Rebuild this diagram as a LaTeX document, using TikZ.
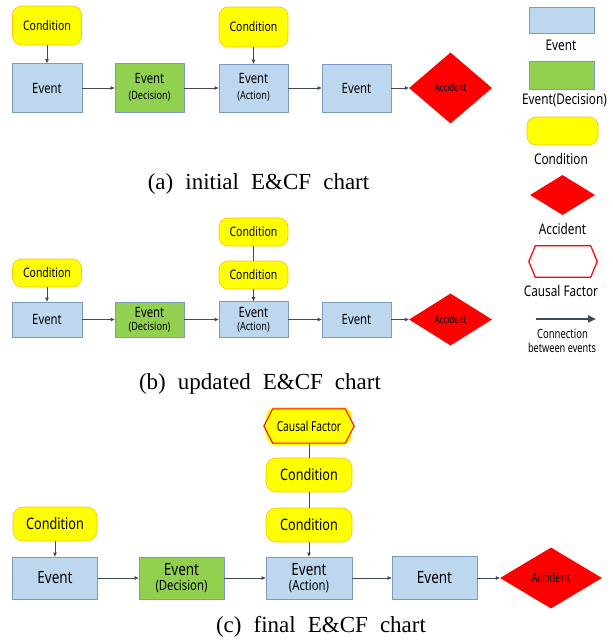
\documentclass[tikz,border=0pt]{standalone}
\usepackage{fontspec}
\setmainfont[FakeStretch=0.8]{Noto Sans}
\newfontfamily\narrowfont[FakeStretch=0.74]{Noto Sans}
\newfontfamily\capfont[WordSpace=2.1]{Liberation Serif}
\usetikzlibrary{shapes.geometric,arrows.meta,backgrounds}
\newcommand\fs[2]{\fontsize{#1}{#2}\selectfont}
\definecolor{evf}{HTML}{BDD7EE}
\definecolor{evb}{HTML}{7D9BC1}
\definecolor{decf}{HTML}{92D050}
\definecolor{condf}{HTML}{FFFF00}
\definecolor{condb}{HTML}{FFC000}
\definecolor{accf}{HTML}{FF0000}
\definecolor{arr}{HTML}{3E4856}
\tikzset{
  sz/.style 2 args={minimum width=#1pt, minimum height=#2pt},
  ev/.style={draw=evb, fill=evf, line width=0.8pt, inner sep=0pt, align=center},
  dec/.style={draw=evb, fill=decf, line width=0.8pt, inner sep=0pt, align=center},
  cond/.style={draw=condb, fill=condf, line width=0.6pt, rounded corners=9pt, inner sep=0pt},
  acc/.style={diamond, fill=accf, inner sep=0pt},
  conn/.style={draw=arr, line width=0.8pt, -{Triangle[length=4pt,width=3.5pt]}},
  link/.style={draw=arr, line width=0.8pt},
  legarrow/.style={draw=arr, line width=2.2pt, -{Triangle[length=8pt,width=7pt]}},
  lbl/.style={inner sep=0pt, font=\fs{14.7}{17}},
  captxt/.style={inner sep=0pt, font=\capfont\fs{23}{27}},
  cfshape/.style={draw=red, line width=1pt},
}
\begin{document}
\begin{tikzpicture}[x=1pt,y=-1pt]
\useasboundingbox (0,0) rectangle (613,643);
% ---------------- panel (a)
\node[cond, sz={69}{39}, font=\fs{13.1}{15}] (ac1) at (47,25.5) {Condition};
\node[ev, sz={70}{49}, font=\fs{14.2}{16}] (ae1) at (47,88) {Event};
\node[dec, sz={69}{49}, font=\fs{14.2}{16}, text depth=4pt] (ad) at (149.5,88) {Event\\[0pt]\fs{11.4}{13}(Decision)};
\node[ev, sz={69}{48}, font=\fs{14.2}{16}, text depth=4pt] (aact) at (253.5,88) {Event\\[0pt]\fs{11.4}{13}(Action)};
\node[cond, sz={69}{40}, font=\fs{13.1}{15}] (ac2) at (253.5,27) {Condition};
\node[ev, sz={69}{48}, font=\fs{14.2}{16}] (ae4) at (356.5,88) {Event};
\node[acc, sz={83}{71}, font=\narrowfont\fs{10.5}{12}] (aacc) at (450.5,88) {Accident};
\draw[conn] (ac1) -- (ae1);
\draw[conn] (ac2) -- (aact);
\draw[conn] (ae1) -- (ad);
\draw[conn] (ad) -- (aact);
\draw[conn] (aact) -- (ae4);
\draw[conn] (ae4) -- (aacc);
\node[captxt] (capa) at (258.5,184) {(a) initial E\&CF chart};
% ---------------- panel (b)
\node[cond, sz={69}{28}, font=\fs{13.1}{15}] (bc1) at (47,273) {Condition};
\node[ev, sz={70}{35}, font=\fs{14.2}{16}] (be1) at (47,319.5) {Event};
\node[dec, sz={69}{35}, font=\fs{14.2}{16}] (bd) at (149.5,319.5) {Event\\[-3pt]\fs{11.4}{13}(Decision)};
\node[ev, sz={69}{36}, font=\fs{14.2}{16}] (bact) at (253.5,319.5) {Event\\[-3pt]\fs{11.4}{13}(Action)};
\node[cond, sz={69}{28}, font=\fs{13.1}{15}] (bc2) at (253.5,275) {Condition};
\node[cond, sz={69}{28}, font=\fs{13.1}{15}] (bc3) at (253.5,232) {Condition};
\node[ev, sz={69}{35}, font=\fs{14.2}{16}] (be4) at (356.5,319.5) {Event};
\node[acc, sz={83}{52}, font=\narrowfont\fs{10.5}{12}] (bacc) at (450.5,319.5) {Accident};
\draw[conn] (bc1) -- (be1);
\draw[link] (bc3) -- (bc2);
\draw[conn] (bc2) -- (bact);
\draw[conn] (be1) -- (bd);
\draw[conn] (bd) -- (bact);
\draw[conn] (bact) -- (be4);
\draw[conn] (be4) -- (bacc);
\node[captxt] (capb) at (260,384) {(b) updated E\&CF chart};
% ---------------- panel (c)
\node[cond, sz={84}{34}, font=\fs{15.8}{18}, rounded corners=10pt] (cc1) at (55,524) {Condition};
\node[ev, sz={85}{42}, font=\fs{16.9}{19}] (ce1) at (55,578) {Event};
\node[dec, sz={85}{42}, font=\fs{16.9}{19}] (cd) at (181.5,578) {Event\\[-4pt]\fs{14.1}{16}(Decision)};
\node[ev, sz={86}{42}, font=\fs{16.9}{19}] (cact) at (309,578) {Event\\[-4pt]\fs{14.1}{16}(Action)};
\node[cond, sz={86}{34}, font=\fs{15.8}{18}, rounded corners=10pt] (cc2) at (309,525) {Condition};
\node[cond, sz={86}{34}, font=\fs{15.8}{18}, rounded corners=10pt] (cc3) at (309,475) {Condition};
\node[inner sep=0pt, sz={90}{34}, font=\narrowfont\fs{13.8}{16}] (ccf) at (309,426) {Causal Factor};
\begin{pgfonlayer}{background}
\fill[condf, rounded corners=10pt] (266,407) rectangle (352,445);
\draw[cfshape, fill=condf] (ccf.west) -- ([xshift=9pt]ccf.north west) -- ([xshift=-9pt]ccf.north east) -- (ccf.east) -- ([xshift=-9pt]ccf.south east) -- ([xshift=9pt]ccf.south west) -- cycle;
\end{pgfonlayer}
\node[ev, sz={85}{43}, font=\fs{16.9}{19}] (ce4) at (434.5,578) {Event};
\node[acc, sz={102}{61}, font=\narrowfont\fs{13}{15}] (cacc) at (551,578) {Accident};
\draw[conn] (cc1) -- (ce1);
\draw[link] (ccf) -- (cc3);
\draw[link] (cc3) -- (cc2);
\draw[conn] (cc2) -- (cact);
\draw[conn] (ce1) -- (cd);
\draw[conn] (cd) -- (cact);
\draw[conn] (cact) -- (ce4);
\draw[conn] (ce4) -- (cacc);
\node[captxt] (capc) at (321,627) {(c) final E\&CF chart};
% ---------------- legend
\node[ev, sz={65}{26}] (le) at (561.5,20) {};
\node[lbl] (lel) at (561,45) {Event};
\node[dec, sz={65}{28}] (ld) at (561.5,75) {};
\node[lbl] (ldl) at (564.5,100) {Event(Decision)};
\node[cond, sz={71}{28}] (lc) at (562.5,131) {};
\node[lbl] (lcl) at (561,159) {Condition};
\node[acc, sz={65}{40}] (lacc) at (562.5,195) {};
\node[lbl] (laccl) at (562.5,229) {Accident};
\node[inner sep=0pt, sz={68}{31}] (lcf) at (563,261.5) {};
\begin{pgfonlayer}{background}
\draw[cfshape, line width=1.2pt, fill=white] (lcf.west) -- ([xshift=6.5pt]lcf.north west) -- ([xshift=-6.5pt]lcf.north east) -- (lcf.east) -- ([xshift=-6.5pt]lcf.south east) -- ([xshift=6.5pt]lcf.south west) -- cycle;
\end{pgfonlayer}
\node[lbl] (lcfl) at (561,291) {Causal Factor};
\coordinate (la1) at (536,319);
\coordinate (la2) at (596,319);
\draw[legarrow] (la1) -- (la2);
\node[inner sep=0pt, font=\narrowfont\fs{12.8}{14}] (lal1) at (562.5,334) {Connection};
\node[inner sep=0pt, font=\narrowfont\fs{12.4}{14}] (lal2) at (562,348) {between events};
\end{tikzpicture}
\end{document}
